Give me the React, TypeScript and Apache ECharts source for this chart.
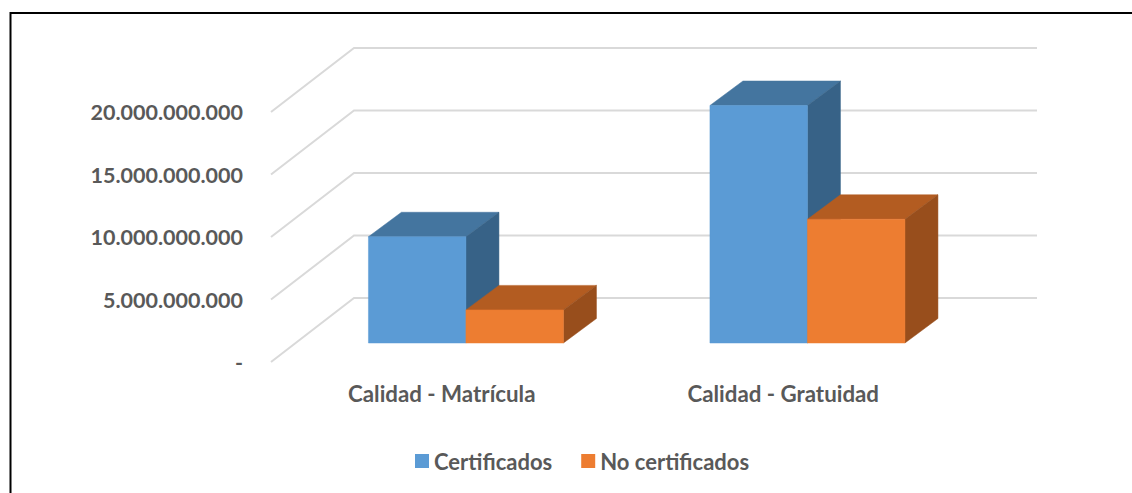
import React, { useEffect, useRef } from "react";
import * as echarts from "echarts";

const categories = ["Calidad - Matrícula", "Calidad - Gratuidad"];
const certificados = [8500000000, 19000000000];
const noCertificados = [2650000000, 9900000000];
const gridTicks = [0, 5000000000, 10000000000, 15000000000, 20000000000];

const FONT = "Lato, Carlito, 'Open Sans', sans-serif";
const TEXT = "#595959";
const DEPTH_X = 83;
const DEPTH_Y = 64;
const FLOOR_X = 24.2;
const FLOOR_Y = 19;
const BAR_W = 97.5;
const BAR_DX = 33;
const BAR_DY = 24.5;

function formatTick(v: number): string {
  if (v === 0) return "-";
  return String(v).replace(/\B(?=(\d{3})+(?!\d))/g, ".");
}

function barRenderer(slot: number, front: string, top: string, side: string) {
  return (_p: any, api: any) => {
    const idx = api.value(0);
    const val = api.value(1);
    const base = api.coord([idx, 0]);
    const head = api.coord([idx, val]);
    const x0 = base[0] + FLOOR_X + (slot === 0 ? -BAR_W : 0);
    const x1 = x0 + BAR_W;
    const yb = base[1] - FLOOR_Y;
    const yt = head[1] - FLOOR_Y;
    const poly = (points: number[][], fill: string) => ({
      type: "polygon",
      shape: { points },
      style: { fill, stroke: fill, lineWidth: 0.5 },
    });
    return {
      type: "group",
      children: [
        poly([[x0, yt], [x1, yt], [x1 + BAR_DX, yt - BAR_DY], [x0 + BAR_DX, yt - BAR_DY]], top),
        poly([[x1, yt], [x1 + BAR_DX, yt - BAR_DY], [x1 + BAR_DX, yb - BAR_DY], [x1, yb]], side),
        poly([[x0, yt], [x1, yt], [x1, yb], [x0, yb]], front),
      ],
    };
  };
}

function gridRenderer(p: any, api: any) {
  const cs = p.coordSys;
  const y = api.coord([0, api.value(0)])[1];
  return {
    type: "polyline",
    shape: {
      points: [
        [cs.x, y],
        [cs.x + DEPTH_X, y - DEPTH_Y],
        [cs.x + cs.width + DEPTH_X, y - DEPTH_Y],
      ],
    },
    style: { fill: "none", stroke: "#D9D9D9", lineWidth: 2 },
  };
}

export default function App() {
  const ref = useRef<HTMLDivElement>(null);
  useEffect(() => {
    document.body.style.margin = "0";
    const chart = echarts.init(ref.current!, null, { renderer: "svg" });
    chart.setOption({
      animation: false,
      backgroundColor: "#ffffff",
      textStyle: { fontFamily: FONT },
      grid: { left: 271, right: 178, top: 112, bottom: 131, containLabel: false },
      legend: {
        data: ["Certificados", "No certificados"],
        left: 410,
        top: 445,
        icon: "rect",
        itemWidth: 14,
        itemHeight: 14,
        itemGap: 29,
        selectedMode: false,
        textStyle: { color: TEXT, fontSize: 22, fontWeight: "bold", fontFamily: FONT },
      },
      xAxis: {
        type: "category",
        data: categories,
        axisLine: { show: false },
        axisTick: { show: false },
        splitLine: { show: false },
        axisLabel: { color: TEXT, fontSize: 22.3, fontWeight: "bold", fontFamily: FONT, margin: 20 },
      },
      yAxis: {
        type: "value",
        min: 0,
        max: 20000000000,
        interval: 5000000000,
        axisLine: { show: false },
        axisTick: { show: false },
        splitLine: { show: false },
        axisLabel: {
          color: TEXT,
          fontSize: 21.5,
          fontWeight: "bold",
          fontFamily: FONT,
          margin: 28,
          formatter: formatTick,
        },
      },
      series: [
        {
          type: "custom",
          name: "grid",
          clip: false,
          silent: true,
          z: 1,
          encode: { y: 0 },
          data: gridTicks.map((v) => [v]),
          renderItem: gridRenderer,
        },
        {
          type: "custom",
          name: "Certificados",
          clip: false,
          z: 2,
          itemStyle: { color: "#5B9BD5" },
          encode: { x: 0, y: 1 },
          data: certificados.map((v, i) => [i, v]),
          renderItem: barRenderer(0, "#5B9BD5", "#44759F", "#376287"),
        },
        {
          type: "custom",
          name: "No certificados",
          clip: false,
          z: 3,
          itemStyle: { color: "#ED7D31" },
          encode: { x: 0, y: 1 },
          data: noCertificados.map((v, i) => [i, v]),
          renderItem: barRenderer(1, "#ED7D31", "#B35C21", "#984E1C"),
        },
      ],
      graphic: [
        {
          type: "polyline",
          shape: { points: [[10.5, 493], [10.5, 13], [1132, 13]] },
          style: { fill: "none", stroke: "#000000", lineWidth: 2 },
          silent: true,
          z: 10,
        },
      ],
    });
    return () => chart.dispose();
  }, []);
  return <div ref={ref} style={{ width: 1132, height: 493 }} />;
}
